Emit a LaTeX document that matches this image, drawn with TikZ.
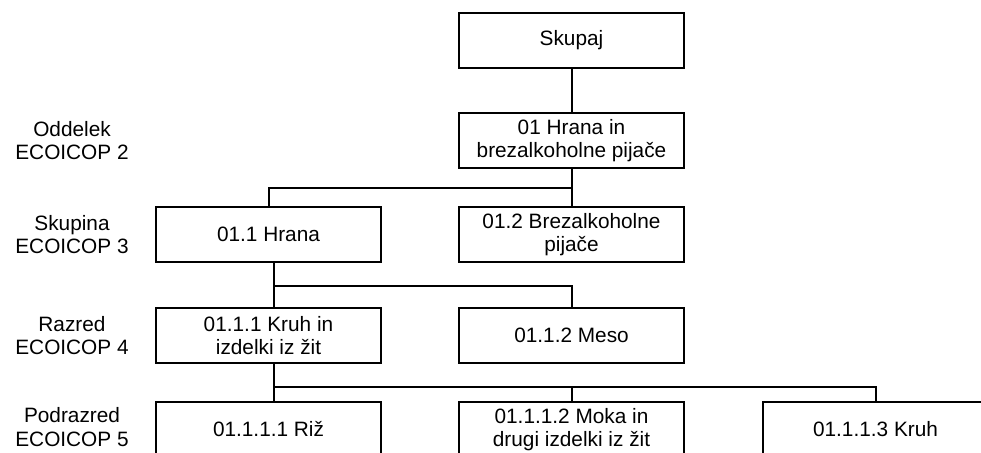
\documentclass[tikz,border=0pt]{standalone}
\usepackage{fontspec}
\setmainfont{Liberation Sans}
\usetikzlibrary{calc}
\usetikzlibrary{positioning}

\tikzset{
  box/.style={draw, line width=2pt, minimum width=225pt, minimum height=55pt,
    align=center, inner sep=2pt},
  level/.style={align=center, inner sep=1pt},
  link/.style={line width=2pt}
}

\begin{document}
\begin{tikzpicture}[x=1pt, y=-1pt, font=\fontsize{20.8}{23.5}\selectfont]
    \useasboundingbox (0, 0) rectangle (981, 452);
    \clip (0, 0) rectangle (981, 452);

    \node [box] (skupaj) at (571.5, 40.5) {Skupaj};
    \node [box] (hrana) at (571.5, 140.5) {01 Hrana in\\brezalkoholne pijače};
    \node [box] (hrana11) at (268.5, 234.5) {01.1 Hrana};
    \node [box] (pijace) at (571.5, 234.5) {01.2 Brezalkoholne\\pijače};
    \node [box] (kruhzit) at (268.5, 335.5) {01.1.1 Kruh in\\izdelki iz žit};
    \node [box] (meso) at (571.5, 335.5) {01.1.2 Meso};
    \node [box] (riz) at (268.5, 429.5) {01.1.1.1 Riž};
    \node [box] (moka) at (571.5, 429.5) {01.1.1.2 Moka in\\drugi izdelki iz žit};
    \node [box] (kruh) at (875.5, 429.5) {01.1.1.3 Kruh};

    % levels on the left
    \node [level] (l2) at (72, 140.5) {Oddelek\\ECOICOP 2};
    \node [level] (l3) at (72, 234.5) {Skupina\\ECOICOP 3};
    \node [level] (l4) at (72, 335.5) {Razred\\ECOICOP 4};
    \node [level] (l5) at (72, 427) {Podrazred\\ECOICOP 5};

    \coordinate (j2) at (274, 285.5);
    \coordinate (j3) at (274, 387);

    \draw [link] (skupaj) -- (hrana);
    \draw [link] (hrana) -- (pijace);
    \draw [link] (hrana11.north) |- ($(hrana.south)!0.5!(pijace.north)$);

    \draw [link] ([xshift=5.5pt]hrana11.south) -- ([xshift=5.5pt]kruhzit.north);
    \draw [link] (j2) -| (meso.north);

    \draw [link] ([xshift=5.5pt]kruhzit.south) -- ([xshift=5.5pt]riz.north);
    \draw [link] (j3) -| (moka.north);
    \draw [link] (j3) -| (kruh.north);
  \end{tikzpicture}
\end{document}
